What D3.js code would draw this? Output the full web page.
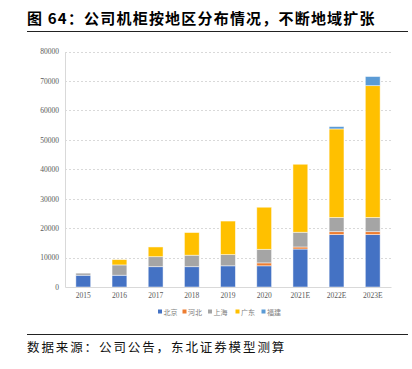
<!DOCTYPE html>
<html><head><meta charset="utf-8">
<script src="https://cdn.jsdelivr.net/npm/d3@7"></script>
<style>body{margin:0;background:#fff}svg{display:block}</style>
</head><body><svg id="c" width="412" height="369"></svg>
<script>
const categories = ["2015","2016","2017","2018","2019","2020","2021E","2022E","2023E"];
const seriesNames = ["北京","河北","上海","广东","福建"];
const beijing = [4000,4000,6900,6900,7200,7200,12900,17800,17800];
const hebei   = [0,0,0,0,0,1000,700,1000,1000];
const shanghai= [700,3500,3400,3900,3800,4600,5000,4800,4800];
const guangdong=[0,1800,3300,7700,11400,14300,23100,30100,44800];
const fujian  = [0,0,0,0,0,0,0,800,3100];
const yTicks = [0,10000,20000,30000,40000,50000,60000,70000,80000];
const colors = ["#4472C4","#ED7D31","#A5A5A5","#FFC000","#5B9BD5"];

const svg = d3.select("#c");
const m = {l:65, r:391, t:51.5, b:287};
const x = d3.scaleBand().domain(categories).range([m.l, m.r]).paddingInner(0.59).paddingOuter(0.3);
const y = d3.scaleLinear().domain([0,80000]).range([m.b, m.t]);

// title
svg.append("text").attr("x",27).attr("y",23.5)
  .attr("font-family","'Noto Sans CJK SC'").attr("font-weight","bold").attr("font-size",15)
  .attr("letter-spacing",1.2).attr("fill","#000").attr("xml:space","preserve").style("white-space","pre")
  .text("图 64：公司机柜按地区分布情况，不断地域扩张");
svg.append("line").attr("x1",27).attr("x2",408).attr("y1",31.5).attr("y2",31.5).attr("stroke","#222").attr("stroke-width",1);

// gridlines
svg.append("g").selectAll("line").data(yTicks.slice(1)).join("line")
  .attr("x1",m.l).attr("x2",m.r).attr("y1",d=>Math.round(y(d))+0.5).attr("y2",d=>Math.round(y(d))+0.5)
  .attr("stroke","#d9d9d9").attr("stroke-dasharray","2,2").attr("stroke-width",1);

// y axis
const ya = svg.append("g").attr("transform",`translate(${m.l},0)`).call(d3.axisLeft(y).tickValues(yTicks).tickSize(0).tickPadding(6).tickFormat(d=>d));
ya.select(".domain").attr("stroke","#d9d9d9");
ya.selectAll("text").attr("font-family","'Liberation Serif'").attr("font-size",7.5).attr("fill","#595959");

// bars
const data = categories.map((c,i)=>({cat:c, vals:[beijing[i],hebei[i],shanghai[i],guangdong[i],fujian[i]]}));
const stack = d3.stack().keys([0,1,2,3,4]).value((d,k)=>d.vals[k]);
const layers = stack(data);
svg.append("g").selectAll("g").data(layers).join("g").attr("fill",(d,i)=>colors[i])
  .selectAll("rect").data(d=>d.filter(p=>p[1]>p[0])).join("rect")
  .attr("x",d=>x(d.data.cat)).attr("width",x.bandwidth())
  .attr("y",d=>y(d[1])).attr("height",d=>y(d[0])-y(d[1]))
  .attr("stroke","rgba(255,255,255,0.6)").attr("stroke-width",0.8);

// x axis
const xa = svg.append("g").attr("transform",`translate(0,${m.b})`).call(d3.axisBottom(x).tickSize(0).tickPadding(6));
xa.select(".domain").attr("stroke","#d9d9d9").attr("stroke-width",1.2);
xa.selectAll("text").attr("font-family","'Liberation Serif'").attr("font-size",7.5).attr("fill","#595959");

// legend
const lg = svg.append("g");
const lx = [158,182.5,208,235.5,261.5];
seriesNames.forEach((n,i)=>{
  lg.append("rect").attr("x",lx[i]).attr("y",309.5).attr("width",4).attr("height",4).attr("fill",colors[i]);
  lg.append("text").attr("x",lx[i]+5.5).attr("y",314.5).attr("font-family","'Noto Sans CJK SC'").attr("font-size",7).attr("fill","#7f7f7f").text(n);
});

// source
svg.append("line").attr("x1",27).attr("x2",408).attr("y1",334.5).attr("y2",334.5).attr("stroke","#222").attr("stroke-width",1);
svg.append("text").attr("x",27).attr("y",352).attr("font-family","'Noto Sans CJK SC'").attr("font-size",12.5)
  .attr("letter-spacing",1.9).attr("fill","#111").text("数据来源：公司公告，东北证券模型测算");
</script></body></html>
